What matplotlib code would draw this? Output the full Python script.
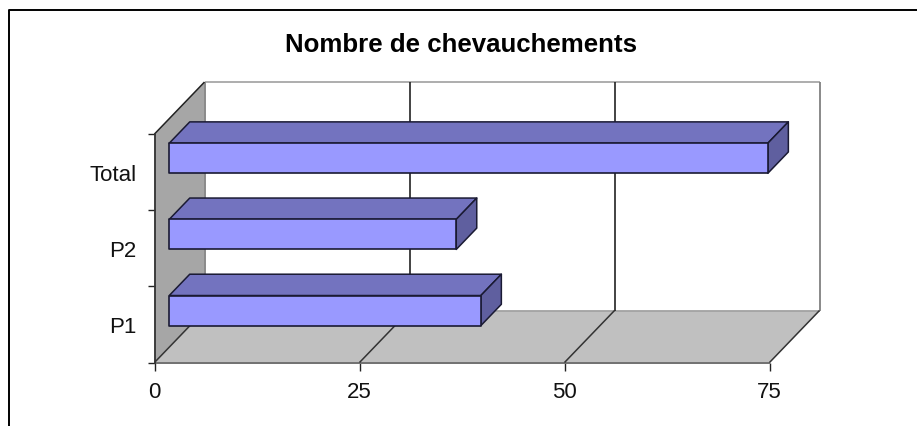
import matplotlib
matplotlib.use("Agg")
import matplotlib.pyplot as plt
from matplotlib.patches import Polygon
from matplotlib.lines import Line2D

plt.rcParams['font.family'] = ['Liberation Sans', 'DejaVu Sans']

title = "Nombre de chevauchements"
categories = ["P1", "P2", "Total"]
values = [38, 35, 73]
x_ticks = [0, 25, 50, 75]

W, H = 917, 427
fig = plt.figure(figsize=(W / 100, H / 100), dpi=100, facecolor="white")
L, R, B, T = 154.5, 769.5, 363.5, 135.0
ax = fig.add_axes([L / W, 1 - B / H, (R - L) / W, (B - T) / H])
ax.set_xlim(0, 75)
ax.set_ylim(0, 3)
ax.patch.set_visible(False)

DX = 50 / 8.2      # depth shift, value units
DY = 52 / 76.2     # depth shift, category units
XMAX, YMAX = 75, 3


def p(v, c, d=0.0):
    return (v + d * DX, c + d * DY)


def poly(pts, fc, ec="none", lw=0.0, z=1):
    ax.add_patch(Polygon(pts, closed=True, facecolor=fc, edgecolor=ec, linewidth=lw,
                         zorder=z, clip_on=False, joinstyle="round"))


def seg(a, b, color, lw=1.2, z=2):
    ax.add_line(Line2D([a[0], b[0]], [a[1], b[1]], color=color, lw=lw, zorder=z,
                       clip_on=False, solid_capstyle="butt"))


# walls
poly([p(0, 0, 1), p(XMAX, 0, 1), p(XMAX, YMAX, 1), p(0, YMAX, 1)], "white")
poly([p(0, 0), p(0, YMAX), p(0, YMAX, 1), p(0, 0, 1)], "#A6A6A6")
poly([p(0, 0), p(XMAX, 0), p(XMAX, 0, 1), p(0, 0, 1)], "#C0C0C0")

GREY = "#8A8A8A"
seg(p(0, YMAX, 1), p(XMAX, YMAX, 1), "#A0A0A0", 1.2)
seg(p(0, 0, 1), p(XMAX, 0, 1), "#A0A0A0", 1.2)
seg(p(0, 0, 1), p(0, YMAX, 1), GREY, 1.4)
seg(p(0, 0), p(XMAX, 0), "#707070", 1.4)
seg(p(XMAX, 0, 1), p(XMAX, YMAX, 1), "#808080", 1.3)
seg(p(0, YMAX), p(0, YMAX, 1), "#222222", 1.1)
for t in x_ticks:
    seg(p(t, 0), p(t, 0, 1), "#333333", 1.1)
    if 0 < t < XMAX:
        seg(p(t, 0, 1), p(t, YMAX, 1), "#222222", 1.2)

# bars, back to front
D0, D1 = 0.295, 0.705
H0, H1 = 0.283, 0.678
EDGE = "#1A1A33"
order = sorted(range(len(values)), key=lambda i: -i)
for i in order:
    v = values[i]
    lo, hi = i + H0, i + H1
    poly([p(0, hi, D0), p(v, hi, D0), p(v, hi, D1), p(0, hi, D1)], "#7373BF", EDGE, 1.1, 5)
    poly([p(v, lo, D0), p(v, hi, D0), p(v, hi, D1), p(v, lo, D1)], "#5F5F9F", EDGE, 1.1, 5)
    poly([p(0, lo, D0), p(v, lo, D0), p(v, hi, D0), p(0, hi, D0)], "#9999FF", EDGE, 1.2, 6)

# axes
for s in ("top", "right"):
    ax.spines[s].set_visible(False)
ax.spines["left"].set_color("#333333")
ax.spines["left"].set_linewidth(1.3)
ax.spines["bottom"].set_visible(False)
ax.set_xticks(x_ticks)
ax.set_yticks(range(len(categories) + 1))
ax.set_yticklabels([])
ax.set_yticks([i + 0.5 for i in range(len(categories))], labels=categories, minor=True)
ax.tick_params(axis="x", length=6, width=1.0, color="#222222", pad=7, labelsize=16, labelcolor="#111111")
ax.tick_params(axis="y", which="major", length=5, width=1.0, color="#222222")
ax.tick_params(axis="y", which="minor", length=0, pad=13, labelsize=16, labelcolor="#111111")
for lab in ax.get_xticklabels() + ax.get_yticklabels(minor=True):
    lab.set_zorder(10)

fig.text(461.5 / W, 1 - 44.5 / H, title, ha="center", va="center", fontsize=18.6,
         fontweight="bold", color="black")

# outer chart frame
fig.add_artist(Line2D([9 / W, 9 / W, 1], [0, 1 - 11 / H, 1 - 11 / H],
                      transform=fig.transFigure, color="black", lw=1.4))

fig.savefig("out.png", dpi=100)
